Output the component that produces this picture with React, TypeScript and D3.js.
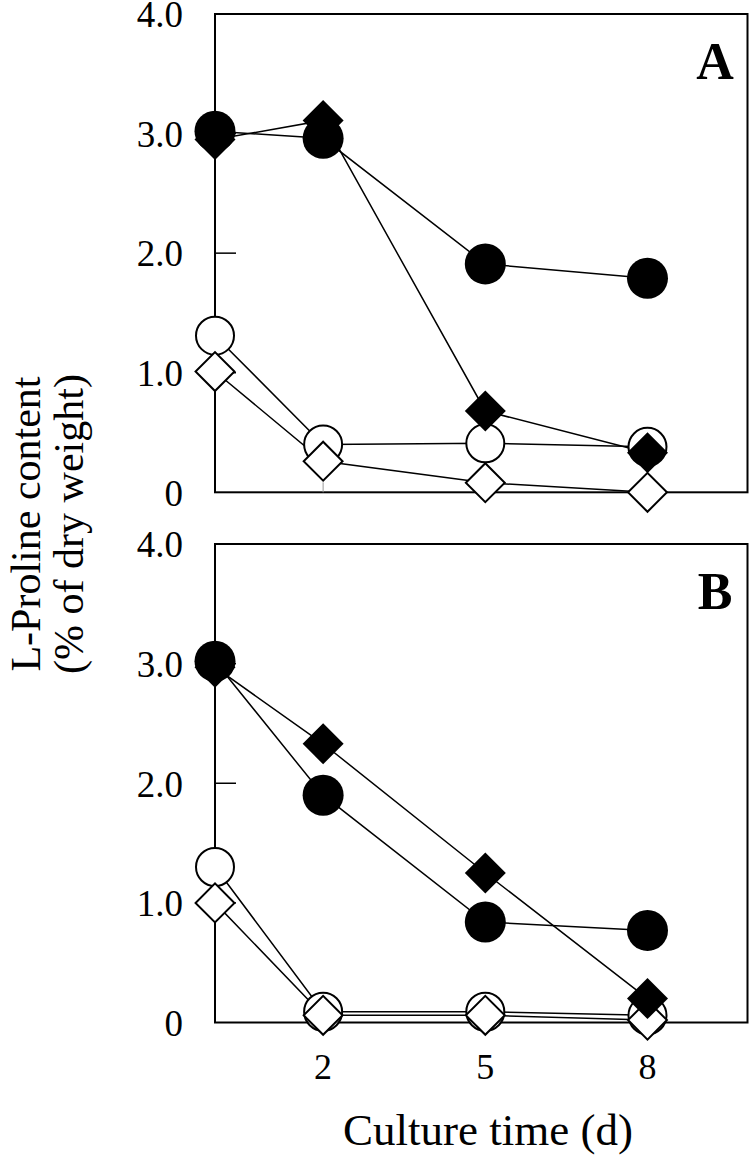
import React from "react";
import * as d3 from "d3";

// culture time (days)
const days = [0, 2, 5, 8];
const xTickDays = [2, 5, 8];
const yTicks = [0, 1, 2, 3, 4];

// panel A
const filledCircleA = [3.02, 2.96, 1.91, 1.79];
const filledDiamondA = [2.95, 3.11, 0.68, 0.33];
const openCircleA = [1.31, 0.4, 0.41, 0.38];
const openDiamondA = [1.01, 0.26, 0.08, 0.0];

// panel B
const filledCircleB = [3.02, 1.9, 0.84, 0.77];
const filledDiamondB = [2.97, 2.33, 1.25, 0.2];
const openCircleB = [1.3, 0.09, 0.09, 0.06];
const openDiamondB = [1.0, 0.06, 0.06, 0.02];

const width = 750;
const height = 1155;
const left = 215;
const right = 747.5;
const font = "'Liberation Serif', 'Times New Roman', serif";

const x = d3.scaleLinear().domain([0, 9.85]).range([left, right]);

const squarePath = d3.symbol(d3.symbolSquare, 29 * 29)();
const openSquarePath = d3.symbol(d3.symbolSquare, 27.5 * 27.5)();

function Panel({ top, bottom, label, fc, fd, oc, od }) {
  const y = d3.scaleLinear().domain([0, 4]).range([bottom, top]);
  const line = d3
    .line<number>()
    .x((_, i) => x(days[i]))
    .y((d) => y(d));

  const series = [oc, od, fd, fc];

  return (
    <g>
      {/* frame */}
      <rect
        x={left}
        y={top}
        width={right - left}
        height={bottom - top}
        fill="none"
        stroke="#000"
        strokeWidth={2}
      />
      {/* inward ticks */}
      {yTicks.slice(1, 4).map((t) => (
        <line key={t} x1={left} x2={left + 21} y1={y(t)} y2={y(t)} stroke="#000" strokeWidth={1.5} />
      ))}
      {xTickDays.map((t) => (
        <line key={t} x1={x(t)} x2={x(t)} y1={bottom} y2={bottom - 10} stroke="#999" strokeWidth={1} />
      ))}
      {yTicks.map((t) => (
        <text
          key={t}
          x={183}
          y={y(t)}
          dy="0.36em"
          textAnchor="end"
          fontFamily={font}
          fontSize={37}
        >
          {t === 0 ? "0" : t.toFixed(1)}
        </text>
      ))}
      {/* lines */}
      {series.map((s, i) => (
        <path key={i} d={line(s) || ""} fill="none" stroke="#000" strokeWidth={1.5} />
      ))}
      {/* markers */}
      {oc.map((v, i) => (
        <circle key={"oc" + i} cx={x(days[i])} cy={y(v)} r={19} fill="#fff" stroke="#000" strokeWidth={2} />
      ))}
      {od.map((v, i) => (
        <path
          key={"od" + i}
          d={openSquarePath || ""}
          transform={`translate(${x(days[i])},${y(v)}) rotate(45)`}
          fill="#fff"
          stroke="#000"
          strokeWidth={2}
        />
      ))}
      {fd.map((v, i) => (
        <path
          key={"fd" + i}
          d={squarePath || ""}
          transform={`translate(${x(days[i])},${y(v)}) rotate(45)`}
          fill="#000"
        />
      ))}
      {fc.map((v, i) => (
        <circle key={"fc" + i} cx={x(days[i])} cy={y(v)} r={20.5} fill="#000" />
      ))}
      <text
        x={715}
        y={top + 65}
        textAnchor="middle"
        fontFamily={font}
        fontWeight="bold"
        fontSize={52}
      >
        {label}
      </text>
    </g>
  );
}

export default function App() {
  const bottomB = 1022.5;
  return (
    <svg
      width={width}
      height={height}
      style={{ position: "absolute", left: 0, top: 0, background: "#fff" }}
    >
      <Panel top={14} bottom={492.3} label="A" fc={filledCircleA} fd={filledDiamondA} oc={openCircleA} od={openDiamondA} />
      <Panel top={544} bottom={bottomB} label="B" fc={filledCircleB} fd={filledDiamondB} oc={openCircleB} od={openDiamondB} />
      {xTickDays.map((t) => (
        <text key={t} x={x(t)} y={1079} textAnchor="middle" fontFamily={font} fontSize={36}>
          {t}
        </text>
      ))}
      <text x={488} y={1145} textAnchor="middle" fontFamily={font} fontSize={45}>
        Culture time (d)
      </text>
      <g transform="translate(0,524) rotate(-90)">
        <text x={0} y={40} textAnchor="middle" fontFamily={font} fontSize={42}>
          L-Proline content
        </text>
        <text x={0} y={83} textAnchor="middle" fontFamily={font} fontSize={42}>
          (% of dry weight)
        </text>
      </g>
    </svg>
  );
}
